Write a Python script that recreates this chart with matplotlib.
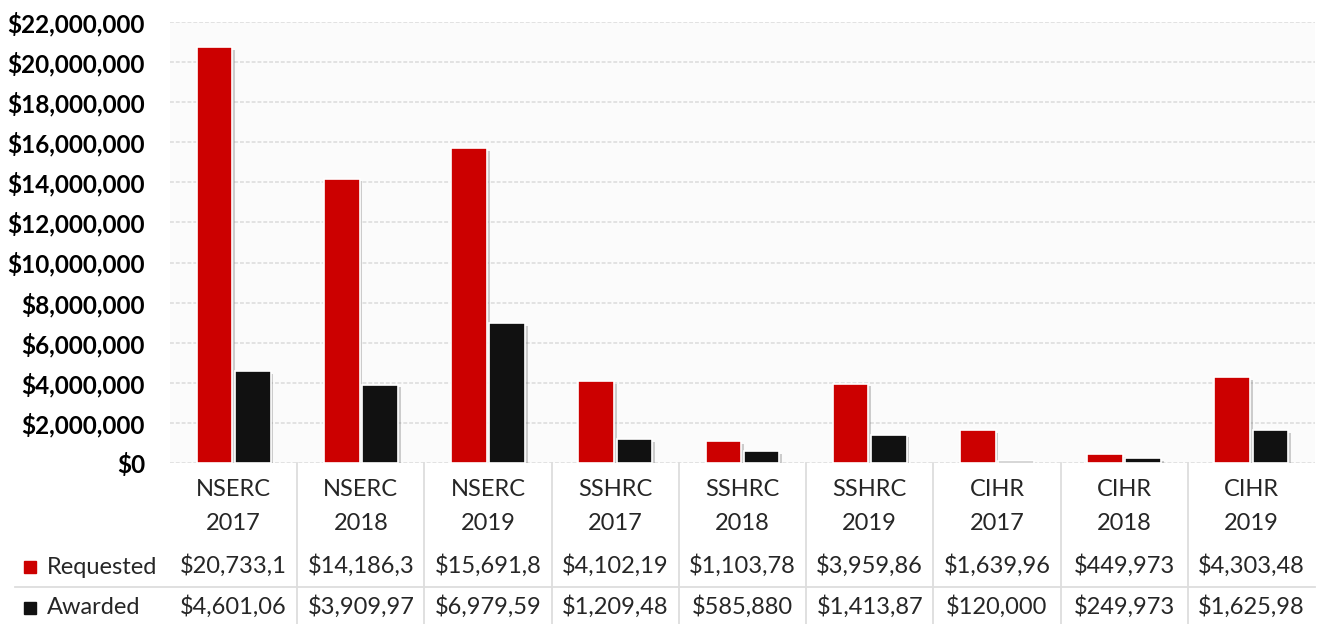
import matplotlib
matplotlib.use("Agg")
import matplotlib.pyplot as plt
import matplotlib.patheffects as pe
from matplotlib.lines import Line2D
from matplotlib.patches import Rectangle
from matplotlib.ticker import FuncFormatter
import numpy as np

plt.rcParams['font.family'] = ['Lato', 'DejaVu Sans']

agencies = ['NSERC', 'NSERC', 'NSERC', 'SSHRC', 'SSHRC', 'SSHRC', 'CIHR', 'CIHR', 'CIHR']
years = ['2017', '2018', '2019', '2017', '2018', '2019', '2017', '2018', '2019']
requested = [20733100, 14186300, 15691800, 4102190, 1103780, 3959860, 1639960, 449973, 4303480]
awarded = [4601060, 3909970, 6979590, 1209480, 585880, 1413870, 120000, 249973, 1625980]
series_names = ['Requested', 'Awarded']
series_colors = ['#CC0000', '#111111']

W, H = 1319, 624
fig = plt.figure(figsize=(W / 100, H / 100), dpi=100)
# plot area in pixels: x 170..1315, y 22..463
ax = fig.add_axes([170 / W, 1 - 463 / H, (1315 - 170) / W, (463 - 22) / H])
ax.set_facecolor('#fbfbfb')

x = np.arange(len(agencies))
bw = 0.28
shadow = [pe.SimplePatchShadow(offset=(2, -2), shadow_rgbFace='#777777', alpha=0.35), pe.Normal()]
for k, vals in enumerate([requested, awarded]):
    ax.bar(x + (k - 0.5) * (bw + 0.02), vals, width=bw, color=series_colors[k],
           edgecolor='white', linewidth=1.2, zorder=3, path_effects=shadow)

ax.set_xlim(-0.5, len(agencies) - 0.5)
ax.set_ylim(0, 22000000)
ax.set_yticks(np.arange(0, 22000001, 2000000))
ax.yaxis.set_major_formatter(FuncFormatter(lambda v, p: '${:,.0f}'.format(v)))
ax.tick_params(axis='y', length=0, pad=18, labelsize=17.5)
for lab in ax.get_yticklabels():
    lab.set_fontweight('bold')
ax.set_xticks([])
ax.grid(axis='y', color='#e2e2e2', linewidth=1.4, linestyle=(0, (2, 1)), zorder=0)
for s in ax.spines.values():
    s.set_visible(False)


# data table under the chart
def ay(py):
    return (463 - py) / 441.0


tr = ax.get_xaxis_transform()
txt_color = '#262626'
fs = 17
for i in range(len(agencies)):
    ax.text(i, ay(489), agencies[i], transform=tr, ha='center', va='center', fontsize=fs, color=txt_color)
    ax.text(i, ay(524), years[i], transform=tr, ha='center', va='center', fontsize=fs, color=txt_color)
    for k, vals in enumerate([requested, awarded]):
        s = '${:,.0f}'.format(vals[i])[:9]
        ax.text(i, ay(566 + k * 41), s, transform=tr, ha='center', va='center', fontsize=fs, color=txt_color)
for i in range(len(agencies) - 1):
    ax.add_line(Line2D([i + 0.5, i + 0.5], [ay(463), ay(630)], transform=tr, color='#dddddd',
                       linewidth=1.3, clip_on=False))
fig.add_artist(Line2D([15 / W, 1315 / W], [1 - 587 / H, 1 - 587 / H], color='#dddddd', linewidth=1.3))

for k, name in enumerate(series_names):
    yc = 1 - (567 + k * 41) / H
    fig.add_artist(Rectangle((24 / W, yc - 6 / H), 12 / W, 12 / H, color=series_colors[k]))
    fig.text(47 / W, yc, name, ha='left', va='center', fontsize=fs, color=txt_color)

fig.savefig('out.png', dpi=100, facecolor='white')
